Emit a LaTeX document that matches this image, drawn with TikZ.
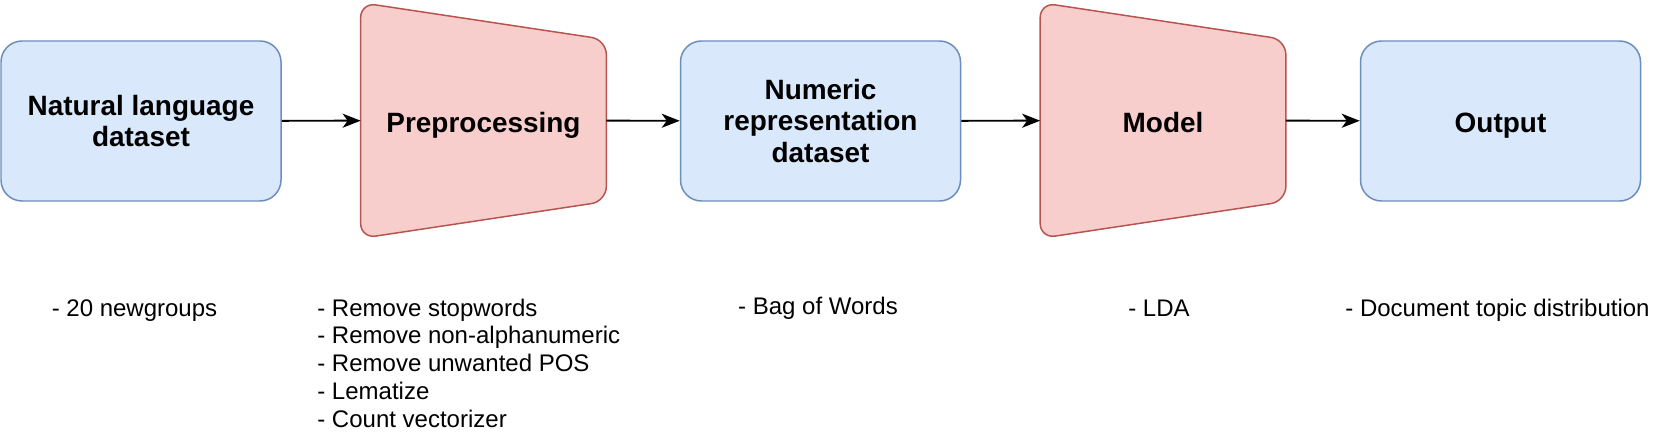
\documentclass[tikz,border=0pt]{standalone}
\usepackage{fontspec}
\setmainfont{Liberation Sans}
\usepackage{xcolor}
\definecolor{datafill}{HTML}{DAE8FC}
\definecolor{dataline}{HTML}{6C8EBF}
\definecolor{stagefill}{HTML}{F8CECC}
\definecolor{stageline}{HTML}{B85450}
\usetikzlibrary{arrows.meta,calc,backgrounds}

\begin{document}
\begin{tikzpicture}[
    databox/.style={draw=dataline, fill=datafill, line width=0.85pt,
        rounded corners=0.42cm, minimum width=5.6cm, minimum height=3.2cm,
        align=center, font=\fontsize{15.9}{18}\selectfont\bfseries},
    stagebox/.style={minimum width=4.9cm, minimum height=4.7cm,
        align=center, font=\fontsize{15.9}{18}\selectfont\bfseries},
    oneline/.style={text height=17pt, text depth=3.4pt},
    stageline/.style={draw=stageline, fill=stagefill, line width=0.85pt,
        rounded corners=0.3cm},
    flow/.style={-{Stealth[length=0.36cm,width=0.28cm,inset=0.1cm]}, line width=1.1pt},
    notes/.style={align=left, inner sep=0pt, font=\fontsize{13.66}{15.77}\selectfont}
]
    \useasboundingbox (0,0) rectangle (33.2,-8.84);

    % blocks
    \node[databox] (nl) at (2.82,-2.42) {Natural language\\dataset};
    \node[stagebox, oneline] (prep) at (9.67,-2.41) {Preprocessing};
    \node[databox] (num) at (16.41,-2.42) {Numeric\\representation\\dataset};
    \node[stagebox, oneline] (model) at (23.26,-2.41) {Model};
    \node[databox, oneline] (out) at (30.01,-2.42) {Output};

    % trapezoids behind the stage labels
    \begin{scope}[on background layer]
        \foreach \s in {prep,model} {
            \draw[stageline] (\s.north west) -- ($(\s.north east)+(0,-0.74)$)
                -- ($(\s.south east)+(0,0.74)$) -- (\s.south west) -- cycle;
        }
    \end{scope}

    % arrows
    \draw[flow] (nl) -- (prep);
    \draw[flow] (prep) -- (num);
    \draw[flow] (num) -- (model);
    \draw[flow] (model) -- (out);

    % notes
    \node[notes, anchor=base] (nlnote) at (2.69,-6.32) {- 20 newgroups};
    \node[notes, anchor=base west] (prepnote) at (6.34,-8.54) {- Remove stopwords\\- Remove non-alphanumeric\\- Remove unwanted POS\\- Lematize\\- Count vectorizer};
    \node[notes, anchor=base] (numnote) at (16.36,-6.28) {- Bag of Words};
    \node[notes, anchor=base] (modelnote) at (23.18,-6.32) {- LDA};
    \node[notes, anchor=base] (outnote) at (29.95,-6.32) {- Document topic distribution};
\end{tikzpicture}
\end{document}
